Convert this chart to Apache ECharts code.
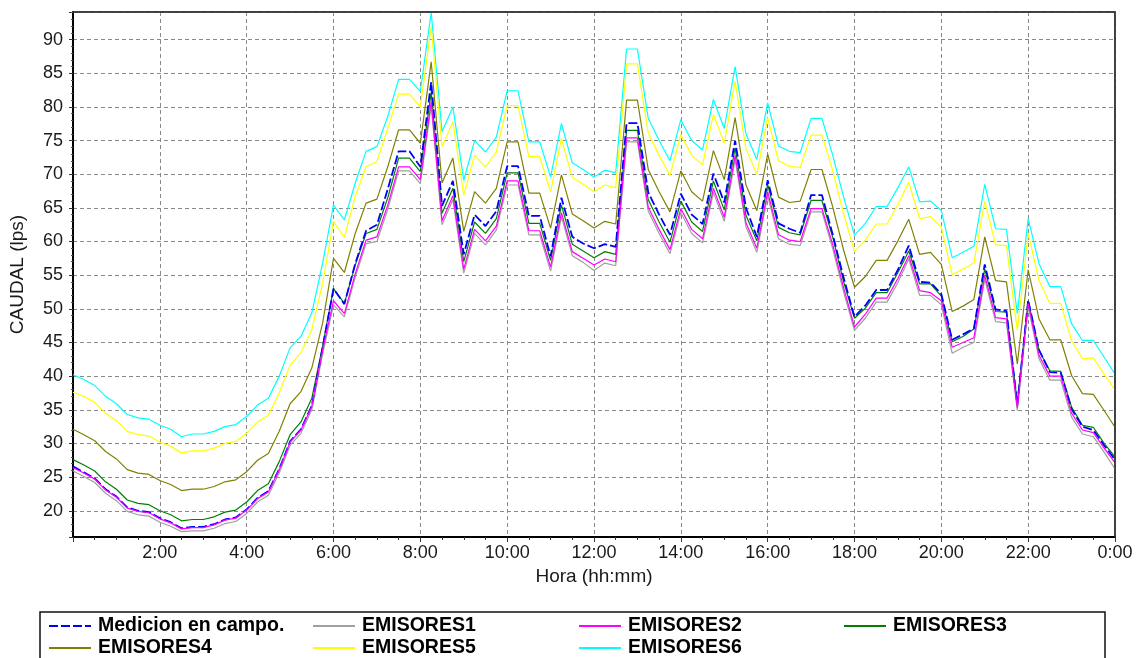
<!DOCTYPE html>
<html>
<head>
<meta charset="utf-8">
<script src="https://cdn.jsdelivr.net/npm/echarts@6/dist/echarts.min.js"></script>
<style>
html,body{margin:0;padding:0;background:#fff;}
#chart{width:1144px;height:658px;}
</style>
</head>
<body>
<div id="chart"></div>
<script>
// Time of day in minutes (15-minute samples)
var minutos = [0,15,30,45,60,75,90,105,120,135,150,165,180,195,210,225,240,255,270,285,300,315,330,345,360,375,390,405,420,435,450,465,480,495,510,525,540,555,570,585,600,615,630,645,660,675,690,705,720,735,750,765,780,795,810,825,840,855,870,885,900,915,930,945,960,975,990,1005,1020,1035,1050,1065,1080,1095,1110,1125,1140,1155,1170,1185,1200,1215,1230,1245,1260,1275,1290,1305,1320,1335,1350,1365,1380,1395,1410,1425,1440];

var seriesNames = ['Medicion en campo.','EMISORES1','EMISORES2','EMISORES3','EMISORES4','EMISORES5','EMISORES6'];

var medicion = [26.6,25.7,24.8,23.2,22.1,20.5,20.0,19.8,18.9,18.3,17.4,17.6,17.6,18.0,18.7,19.0,20.2,21.9,22.9,26.2,30.3,32.1,35.6,44.3,53.0,50.7,56.7,61.6,62.5,67.8,73.4,73.4,71.1,83.7,65.3,69.0,58.1,64.0,62.3,64.5,71.2,71.2,63.8,63.8,57.8,66.5,60.7,59.7,59.0,59.6,59.2,77.6,77.6,67.3,64.0,61.0,67.1,64.0,62.6,70.1,65.8,75.0,65.0,60.7,69.1,62.7,61.9,61.3,66.9,66.9,61.0,54.6,48.8,50.5,52.8,52.8,55.8,59.4,54.0,53.9,52.2,45.4,46.2,47.1,56.6,49.9,49.7,35.8,51.3,43.9,40.6,40.5,35.1,32.5,32.0,29.7,27.6];

var emisores1 = [25.9,25.1,24.2,22.6,21.5,19.9,19.4,19.2,18.3,17.7,16.9,17.0,17.0,17.4,18.1,18.4,19.6,21.3,22.3,25.6,29.7,31.5,35.0,43.3,50.6,48.8,54.7,59.7,60.0,64.8,70.5,70.5,68.6,80.2,62.5,66.2,55.3,61.2,59.5,61.7,68.4,68.4,61.0,61.0,55.6,63.7,57.9,56.9,55.7,56.8,56.4,74.8,74.8,64.5,61.2,58.2,64.3,61.2,59.8,67.3,63.0,72.2,62.2,58.4,66.8,60.4,59.6,59.4,64.4,64.4,58.9,52.5,46.8,48.6,51.0,51.0,53.9,57.4,52.0,52.0,50.6,43.4,44.3,45.0,54.4,48.1,47.9,34.9,50.3,42.6,39.4,39.4,33.9,31.4,31.0,28.7,26.2];

var emisores2 = [26.4,25.6,24.7,23.1,22.0,20.4,19.9,19.7,18.8,18.2,17.3,17.5,17.5,17.9,18.6,18.9,20.1,21.8,22.8,26.1,30.2,32.0,35.5,43.9,51.2,49.3,55.2,60.2,60.7,65.4,71.1,71.1,69.2,80.8,63.1,66.8,55.9,61.8,60.1,62.3,69.0,69.0,61.6,61.6,56.2,64.3,58.5,57.5,56.5,57.4,57.0,75.4,75.4,65.1,61.8,58.8,64.9,61.8,60.4,67.9,63.6,72.8,62.8,59.0,67.4,61.0,60.2,60.0,64.9,64.9,59.5,53.1,47.3,49.2,51.6,51.6,54.5,57.9,52.7,52.4,51.2,44.3,45.0,45.7,55.0,48.7,48.5,35.3,50.8,43.1,40.0,40.0,34.5,32.0,31.6,29.3,27.1];

var emisores3 = [27.6,26.8,25.9,24.3,23.2,21.6,21.1,20.9,20.0,19.4,18.5,18.7,18.7,19.1,19.8,20.1,21.3,23.0,24.0,27.3,31.3,33.2,36.7,44.5,53.0,50.8,56.5,61.2,61.8,66.5,72.4,72.4,70.4,82.2,64.2,67.9,57.0,62.9,61.2,63.4,70.2,70.2,62.7,62.7,57.2,65.4,59.6,58.6,57.6,58.5,58.1,76.5,76.5,66.2,62.9,59.9,66.0,62.9,61.5,69.0,64.7,73.9,63.9,60.1,68.5,62.1,61.3,61.0,66.1,66.1,60.6,54.0,48.6,50.1,52.4,52.4,55.4,58.6,53.7,53.7,51.9,45.1,45.9,47.0,55.9,49.6,49.5,36.0,51.2,43.8,40.8,40.7,35.4,32.7,32.4,30.0,28.0];

var emisores4 = [32.1,31.3,30.4,28.8,27.7,26.1,25.6,25.4,24.5,23.9,23.0,23.2,23.2,23.6,24.3,24.6,25.8,27.5,28.5,31.8,35.9,37.7,41.2,47.9,57.5,55.4,61.2,65.7,66.3,71.1,76.6,76.6,74.6,86.7,68.7,72.4,61.5,67.4,65.7,67.9,74.8,74.8,67.2,67.2,62.0,69.9,64.1,63.1,62.0,63.0,62.6,81.0,81.0,70.7,67.4,64.4,70.5,67.4,66.0,73.5,69.2,78.4,68.4,64.6,73.0,66.6,65.8,66.0,70.7,70.7,65.1,58.7,53.2,54.8,57.2,57.2,60.1,63.3,58.1,58.4,56.6,49.6,50.4,51.4,60.7,54.2,54.0,41.8,55.8,48.5,45.4,45.4,40.1,37.4,37.3,34.9,32.4];

var emisores5 = [37.6,37.0,36.1,34.5,33.4,31.8,31.3,31.1,30.2,29.6,28.6,28.9,28.9,29.3,30.0,30.3,31.5,33.2,34.2,37.5,41.6,43.5,46.9,53.8,63.0,60.6,66.7,71.1,71.9,76.8,81.9,81.9,80.0,91.9,74.1,77.8,66.9,72.8,71.1,73.3,80.2,80.2,72.6,72.6,67.4,75.3,69.5,68.5,67.4,68.4,68.0,86.4,86.4,76.1,72.8,69.8,75.9,72.8,71.4,78.9,74.6,83.8,73.8,70.0,78.4,72.0,71.2,71.0,75.8,75.8,70.5,64.1,58.5,60.2,62.6,62.6,65.5,68.8,63.4,63.7,62.1,55.1,55.9,56.8,66.0,59.5,59.4,46.8,61.2,54.2,50.8,50.8,45.3,42.6,42.7,40.3,37.9];

var emisores6 = [40.2,39.5,38.6,37.0,35.9,34.3,33.8,33.6,32.7,32.1,31.0,31.4,31.4,31.8,32.5,32.8,34.0,35.7,36.7,40.0,44.2,45.9,49.4,56.8,65.4,63.2,68.7,73.4,74.1,78.6,84.1,84.1,82.3,94.0,76.3,80.0,69.1,75.0,73.3,75.5,82.4,82.4,74.8,74.8,69.6,77.5,71.7,70.7,69.6,70.6,70.2,88.6,88.6,78.3,75.0,72.0,78.1,75.0,73.6,81.1,76.8,86.0,76.0,72.2,80.6,74.2,73.4,73.2,78.3,78.3,72.8,66.6,60.9,62.7,65.2,65.2,68.0,71.1,65.9,66.0,64.6,57.6,58.4,59.3,68.5,61.9,61.8,49.3,63.4,56.7,53.3,53.3,47.8,45.3,45.3,42.8,40.3];

var yTickValues = [20,25,30,35,40,45,50,55,60,65,70,75,80,85,90];

var FONT = '"Liberation Sans", Arial, sans-serif';

function pairs(arr){ return minutos.map(function(m,i){ return [m, arr[i]]; }); }

function lineSeries(name, arr, color, width, dash, z){
  return {
    name: name, type: 'line', data: pairs(arr), symbol: 'none', showSymbol: false,
    animation: false, z: z,
    lineStyle: { color: color, width: width, type: dash || 'solid' },
    itemStyle: { color: color },
    emphasis: { disabled: true }
  };
}

var chart = echarts.init(document.getElementById('chart'), null, {renderer: 'canvas'});

var legendPos = [
  [48, 616], [312, 616], [578, 616], [843, 616],
  [48, 638], [312, 638], [578, 638]
];
var legends = seriesNames.map(function(n, i){
  return {
    data: [n], left: legendPos[i][0], top: legendPos[i][1],
    orient: 'horizontal', itemWidth: 42, itemHeight: 12, itemGap: 0, padding: 0,
    selectedMode: false,
    itemStyle: { opacity: 0, borderWidth: 0 },
    textStyle: { fontFamily: FONT, fontWeight: 'bold', fontSize: 19.5, color: '#000', padding: [0,0,0,2] }
  };
});

var option = {
  backgroundColor: '#fff',
  animation: false,
  grid: { left: 73, right: 29, top: 12, bottom: 121, show: true, borderColor: '#333', borderWidth: 1.5, containLabel: false },
  legend: legends,
  xAxis: {
    type: 'value', min: 0, max: 1440, interval: 120,
    name: 'Hora (hh:mm)', nameLocation: 'middle', nameGap: 30,
    nameTextStyle: { fontFamily: FONT, fontSize: 19, color: '#1a1a1a' },
    axisLine: { show: true, onZero: false, lineStyle: { color: '#000', width: 2 } },
    axisTick: { show: true, inside: false, length: 5, lineStyle: { color: '#333', width: 1 } },
    minorTick: { show: true, splitNumber: 4, length: 3, lineStyle: { color: '#333', width: 1 } },
    axisLabel: {
      fontFamily: FONT, fontSize: 18, color: '#1a1a1a', margin: 7,
      formatter: function(v){ if (v === 0) return ''; return ((v/60) % 24) + ':00'; }
    },
    splitLine: { show: true, lineStyle: { color: '#8a8a8a', width: 1, type: [4,3] } }
  },
  yAxis: {
    type: 'value', min: 16.1, max: 94.1, splitNumber: 15, minInterval: 5, maxInterval: 5,
    name: 'CAUDAL (lps)', nameLocation: 'middle', nameGap: 46, nameRotate: 90,
    nameTextStyle: { fontFamily: FONT, fontSize: 19, color: '#1a1a1a' },
    axisLine: { show: true, onZero: false, lineStyle: { color: '#000', width: 2 } },
    axisTick: { show: true, inside: false, length: 4, lineStyle: { color: '#333', width: 1 } },
    minorTick: { show: true, splitNumber: 5, length: 2, lineStyle: { color: '#555', width: 1 } },
    axisLabel: {
      fontFamily: FONT, fontSize: 18, color: '#1a1a1a', margin: 10,
      showMinLabel: false, showMaxLabel: false,
      formatter: function(v){ var r = Math.round(v); return (Math.abs(v - r) < 1e-6 && yTickValues.indexOf(r) >= 0) ? String(r) : ''; }
    },
    splitLine: { show: true, lineStyle: { color: '#8a8a8a', width: 1, type: [4,3] } }
  },
  graphic: [
    { type: 'rect', z: 100, silent: true, shape: { x: 40, y: 612, width: 1065, height: 60 },
      style: { fill: 'none', stroke: '#111', lineWidth: 1.5 } },
    { type: 'polyline', z: 100, silent: true, shape: { points: [[73, 12], [1115, 12], [1115, 537]] },
      style: { fill: 'none', stroke: '#333', lineWidth: 1.5 } }
  ],
  series: [
    lineSeries('EMISORES6', emisores6, '#00ffff', 1.2, null, 2),
    lineSeries('EMISORES5', emisores5, '#ffff00', 1.2, null, 2),
    lineSeries('EMISORES4', emisores4, '#808000', 1.2, null, 2),
    lineSeries('EMISORES1', emisores1, '#a0a0a0', 1.2, null, 2),
    lineSeries('EMISORES3', emisores3, '#008000', 1.2, null, 3),
    lineSeries('Medicion en campo.', medicion, '#0000ff', 1.8, [9,3], 3),
    lineSeries('EMISORES2', emisores2, '#ff00ff', 1.2, null, 3)
  ]
};
chart.setOption(option);
</script>
</body>
</html>
